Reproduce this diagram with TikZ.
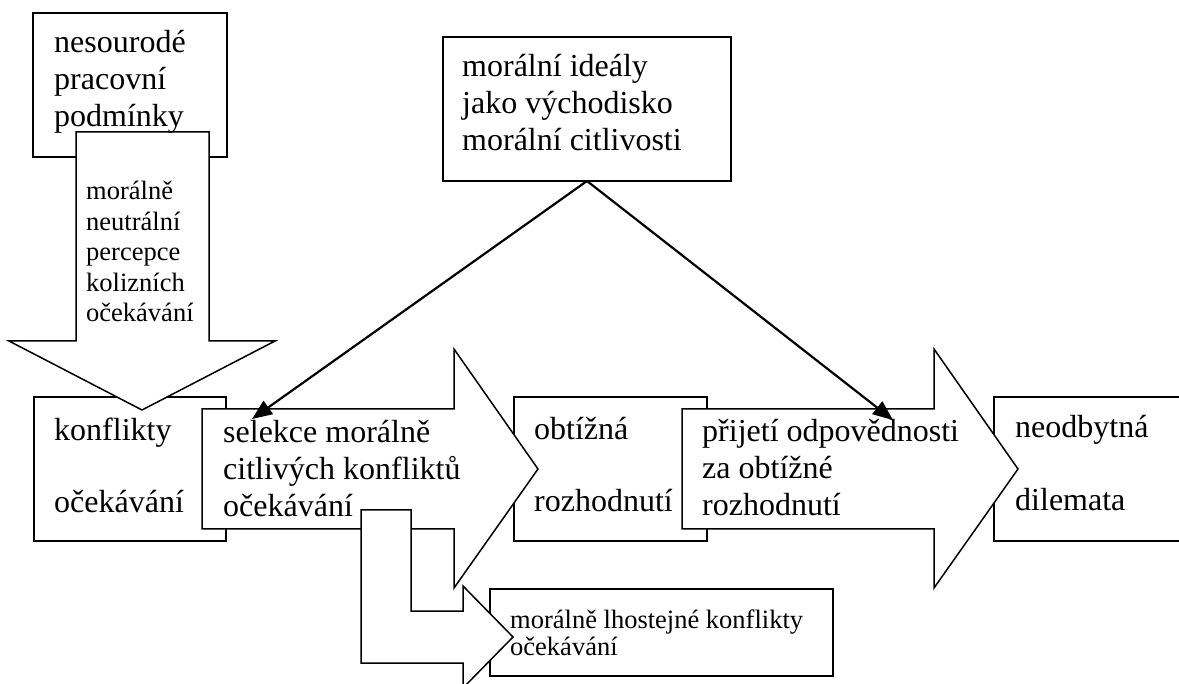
\documentclass[tikz,border=0pt]{standalone}
\usepackage{fontspec}
\setmainfont{Liberation Serif}
\usetikzlibrary{arrows.meta}

\begin{document}
\begin{tikzpicture}[x=1pt,y=-1pt,
  box/.style={draw, line width=1.8pt, fill=white, inner sep=0pt, outer sep=0pt},
  blockarrow/.style={draw, line width=1.5pt, fill=white, line join=miter},
  link/.style={line width=2.2pt, -{Triangle[length=20pt,width=16pt]}},
  % text nodes are placed by the baseline of their last line
  bigtxt/.style={font=\fontsize{32}{36.7}\selectfont, align=left, anchor=base west, inner sep=0pt},
  gaptxt/.style={font=\fontsize{32}{73}\selectfont, align=left, anchor=base west, inner sep=0pt},
  smalltxt/.style={font=\fontsize{26.5}{30.5}\selectfont, align=left, anchor=base west, inner sep=0pt},
  tighttxt/.style={font=\fontsize{26.5}{27}\selectfont, align=left, anchor=base west, inner sep=0pt}]

\useasboundingbox (0,0) rectangle (1179,684);
\clip (0,0) rectangle (1179,684);

% working conditions and the downward perception arrow
\node[box, minimum width=194pt, minimum height=144pt] (cond) at (130,85) {};
\node[box, minimum width=192pt, minimum height=144pt] (conflict) at (130,469) {};
\draw[blockarrow] (76,132) -- (209,132) -- (209,341) -- (275,341) -- (142,410)
  -- (9,341) -- (76,341) -- cycle;

% moral ideals
\node[box, minimum width=288pt, minimum height=144pt] (ideal) at (587,109) {};

% selection arrow
\node[box, minimum width=193pt, minimum height=144pt] (decision) at (610.5,469) {};
\draw[blockarrow] (202,409) -- (454,409) -- (454,349) -- (538,469) -- (454,588)
  -- (454,529) -- (202,529) -- cycle;

% responsibility arrow
\node[box, minimum width=200pt, minimum height=144pt] (dilemma) at (1094,469) {};
\draw[blockarrow] (682,409) -- (934,409) -- (934,349) -- (1018,469) -- (934,588)
  -- (934,529) -- (682,529) -- cycle;

% indifferent conflicts and the bent arrow
\node[box, minimum width=343pt, minimum height=87pt] (indiff) at (661.5,632.5) {};
\draw[blockarrow] (361,510) -- (411,510) -- (411,611) -- (463,611) -- (463,586)
  -- (513,637) -- (463,688) -- (463,663) -- (361,663) -- cycle;

% links from the moral ideals
\coordinate (selTip) at (252,419);
\coordinate (accTip) at (893,420);
\draw[link] (ideal.south) -- (selTip);
\draw[link] (ideal.south) -- (accTip);

% labels
\node[bigtxt] (condtxt) at (54,126.4) {nesourodé\\pracovní\\podmínky};
\node[smalltxt] (perctxt) at (86,322) {morálně\\neutrální\\percepce\\kolizních\\očekávání};
\node[bigtxt] (idealtxt) at (462,150.4) {morální ideály\\jako východisko\\morální citlivosti};
\node[gaptxt] (conflicttxt) at (54,513) {konflikty\\očekávání};
\node[bigtxt] (seltxt) at (223,516.4) {selekce morálně\\citlivých konfliktů\\očekávání};
\node[gaptxt] (decisiontxt) at (534,512) {obtížná\\rozhodnutí};
\node[bigtxt] (acctxt) at (702,515.4) {přijetí odpovědnosti\\za obtížné\\rozhodnutí};
\node[gaptxt] (dilemmatxt) at (1015,511) {neodbytná\\dilemata};
\node[tighttxt] (indifftxt) at (510,655) {morálně lhostejné konflikty\\očekávání};
\end{tikzpicture}
\end{document}
